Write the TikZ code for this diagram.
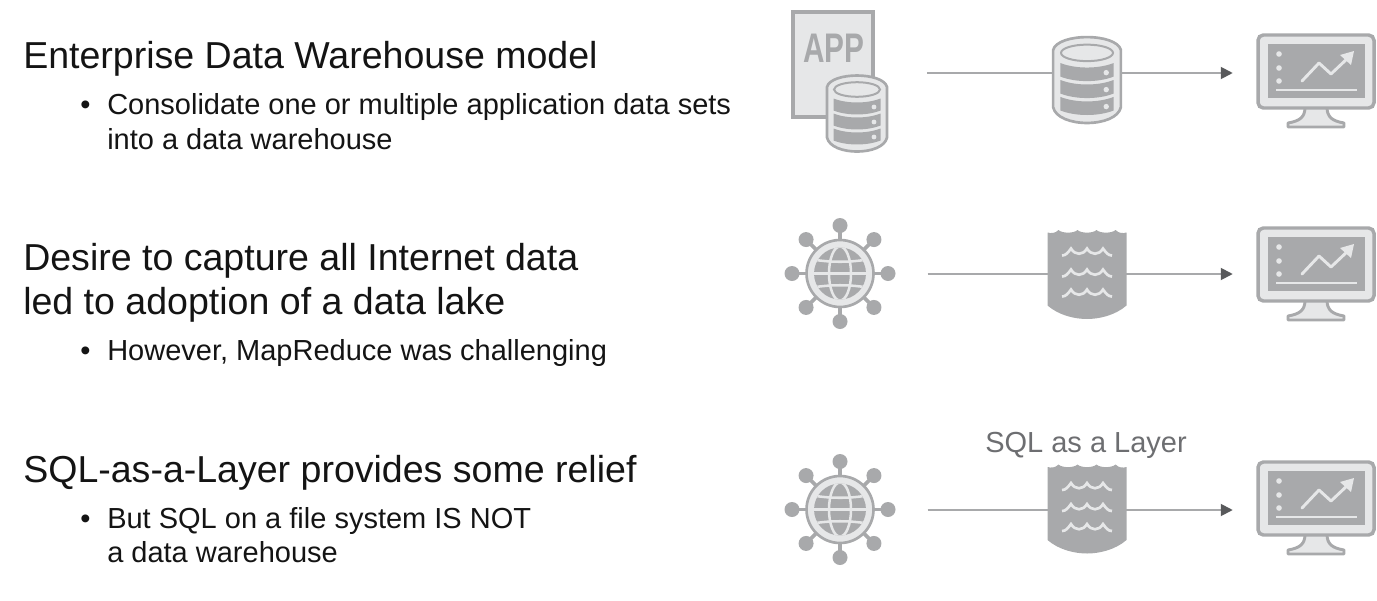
\documentclass[tikz,border=0pt]{standalone}
\usepackage{fontspec}
\setmainfont{Liberation Sans}
\usetikzlibrary{arrows.meta}
\definecolor{icd}{HTML}{A8A9AB}
\definecolor{icl}{HTML}{E6E7E8}
\definecolor{tipc}{HTML}{58595B}
\definecolor{lbl}{HTML}{6D6E71}
\tikzset{
  x=.75pt,y=-.75pt,
  head/.style={anchor=base west,inner sep=0,font=\fontsize{28.15}{32}\selectfont,text=black!92},
  sub/.style={anchor=base west,inner sep=0,font=\fontsize{21.75}{26}\selectfont,text=black!92},
  iconbox/.style={inner sep=0,minimum height=1pt,minimum width=#1*.75pt},
  flow/.style={draw=icd,line width=1.4pt},
  flowtip/.style={flow,shorten >=18pt,-{Triangle[length=9pt,width=9pt,fill=tipc,color=tipc]}},
  dbicon/.pic={
    \draw[fill=icl,draw=icd,line width=2pt]
      (-30,-26.5) .. controls (-26,-41.8) and (26,-41.8) .. (30,-26.5) -- (30,24)
      .. controls (26,42.7) and (-26,42.7) .. (-30,24) -- cycle;
    \draw[draw=icd,line width=1.5pt,fill=icl] (0,-24) ellipse [x radius=23,y radius=7.3];
    \foreach \yy in {-15,0,15}{
      \fill[icd] (-23.5,\yy) .. controls (-10,\yy+5.3) and (10,\yy+5.3) .. (23.5,\yy) -- (23.5,\yy+12)
        .. controls (10,\yy+17.3) and (-10,\yy+17.3) .. (-23.5,\yy+12) -- cycle;
      \fill[icl] (17,\yy+8.5) circle [radius=2.4];
    }
  },
  monicon/.pic={
    \fill[icl,draw=icd,line width=2.2pt,line join=round]
      (-11,36) .. controls (-11,46) and (-16,50) .. (-28,52) -- (-28,56) -- (28,56) -- (28,52)
      .. controls (16,50) and (11,46) .. (11,36) -- cycle;
    \draw[fill=icl,draw=icd,line width=2.6pt,rounded corners=4pt] (-58,-36) rectangle (58,37);
    \fill[icd] (-48,-27) rectangle (49,27);
    \foreach \yy in {-17,-3,10}{\fill[icl] (-37,\yy) circle [radius=2.8];}
    \draw[icl,line width=2.2pt] (-40,19) -- (41,19);
    \draw[icl,line width=2.2pt,line cap=round,line join=round]
      (-14,10) -- (3,-8) -- (15,3) -- (33,-14);
    \fill[icl] (38,-20) -- (35,-6) -- (24,-16) -- cycle;
  },
  globeicon/.pic={
    \foreach \a in {0,45,...,315}{
      \draw[icd,line width=2.8pt] (\a:30) -- (\a:48);
      \fill[icd] (\a:48) circle [radius=7.5];
    }
    \draw[fill=icl,draw=icd,line width=2pt] (0,0) circle [radius=33.5];
    \begin{scope}
      \clip (0,0) circle [radius=26];
      \fill[icd] (-27,-27) rectangle (27,27);
      \draw[icl,line width=1.9pt] (0,0) ellipse [x radius=11,y radius=27];
      \draw[icl,line width=1.9pt] (-27,0) -- (27,0);
      \draw[icl,line width=1.9pt] (-27,-14) .. controls (-10,-11) and (10,-11) .. (27,-14);
      \draw[icl,line width=1.9pt] (-27,14) .. controls (-10,11) and (10,11) .. (27,14);
    \end{scope}
  },
  lakeicon/.pic={
    \fill[icd] (-39.5,-42)
      .. controls (-36,-41) and (-32,-41) .. (-28.5,-44.5)
      .. controls (-25,-41) and (-13,-41) .. (-9.5,-44.5)
      .. controls (-6,-41) and (6,-41) .. (9.5,-44.5)
      .. controls (13,-41) and (25,-41) .. (28.5,-44.5)
      .. controls (32,-41) and (36,-41) .. (39.5,-42)
      -- (39.5,31) .. controls (28,41) and (12,44.5) .. (0,44.5)
      .. controls (-12,44.5) and (-28,41) .. (-39.5,31) -- cycle;
    \foreach \tt in {-19,2,22}{
      \draw[icl,line width=2pt]
        (-25,\tt) .. controls (-21,\tt) and (-19,\tt-3) .. (-16,\tt-7)
        .. controls (-12,\tt) and (-4,\tt) .. (0,\tt-7)
        .. controls (4,\tt) and (12,\tt) .. (16,\tt-7)
        .. controls (19,\tt-3) and (21,\tt) .. (25,\tt);
    }
  }
}
\begin{document}
\begin{tikzpicture}
\useasboundingbox (0,0) rectangle (1377,600);
% invisible icon anchors
\node[iconbox=62] (s1) at (857,73) {};
\node[iconbox=70] (d1) at (1087,73) {};
\node[iconbox=118] (m1) at (1316,73) {};
\node[iconbox=110] (s2) at (839,274) {};
\node[iconbox=78] (d2) at (1087,274) {};
\node[iconbox=118] (m2) at (1316,274) {};
\node[iconbox=110] (s3) at (839,510) {};
\node[iconbox=78] (d3) at (1087,510) {};
\node[iconbox=118] (m3) at (1316,510) {};
% connectors
\draw[flow,shorten <=29pt] (s1.east) -- (d1.west);
\draw[flowtip] (d1.east) -- (m1.west);
\draw[flow,shorten <=25pt] (s2.east) -- (d2.west);
\draw[flowtip] (d2.east) -- (m2.west);
\draw[flow,shorten <=25pt] (s3.east) -- (d3.west);
\draw[flowtip] (d3.east) -- (m3.west);
% row 1 icons
\draw[fill=icl,draw=icd,line width=3pt] (793,12) rectangle (873,117);
\node[inner sep=0,text=icd,font=\fontsize{31}{31}\bfseries\selectfont,xscale=.72] (app) at (834,48) {APP};
\pic at (857,113.5) {dbicon};
\pic[scale=1.13] at (1087,80) {dbicon};
\pic at (1316,71) {monicon};
% row 2 icons
\pic at (840,273.5) {globeicon};
\pic at (1087,274.5) {lakeicon};
\pic at (1316,264) {monicon};
% row 3 icons
\pic at (840,509.5) {globeicon};
\pic at (1087,509) {lakeicon};
\pic at (1316,498) {monicon};
\node[anchor=base,inner sep=0,text=lbl,font=\fontsize{21.75}{26}\selectfont] (lay) at (1086,452.5) {SQL as a Layer};
% texts
\node[head] (h1) at (23,68) {Enterprise Data Warehouse model};
\node[sub] (b1) at (80,114) {•};
\node[sub] (t1a) at (107,114) {Consolidate one or multiple application data sets};
\node[sub] (t1b) at (107,149) {into a data warehouse};
\node[head] (h2a) at (23,270) {Desire to capture all Internet data};
\node[head] (h2b) at (23,314) {led to adoption of a data lake};
\node[sub] (b2) at (80,360.5) {•};
\node[sub] (t2) at (107,360.5) {However, MapReduce was challenging};
\node[head] (h3) at (23,482) {SQL-as-a-Layer provides some relief};
\node[sub] (b3) at (80,528) {•};
\node[sub] (t3a) at (107,528) {But SQL on a file system IS NOT};
\node[sub] (t3b) at (107,562) {a data warehouse};
\end{tikzpicture}
\end{document}
